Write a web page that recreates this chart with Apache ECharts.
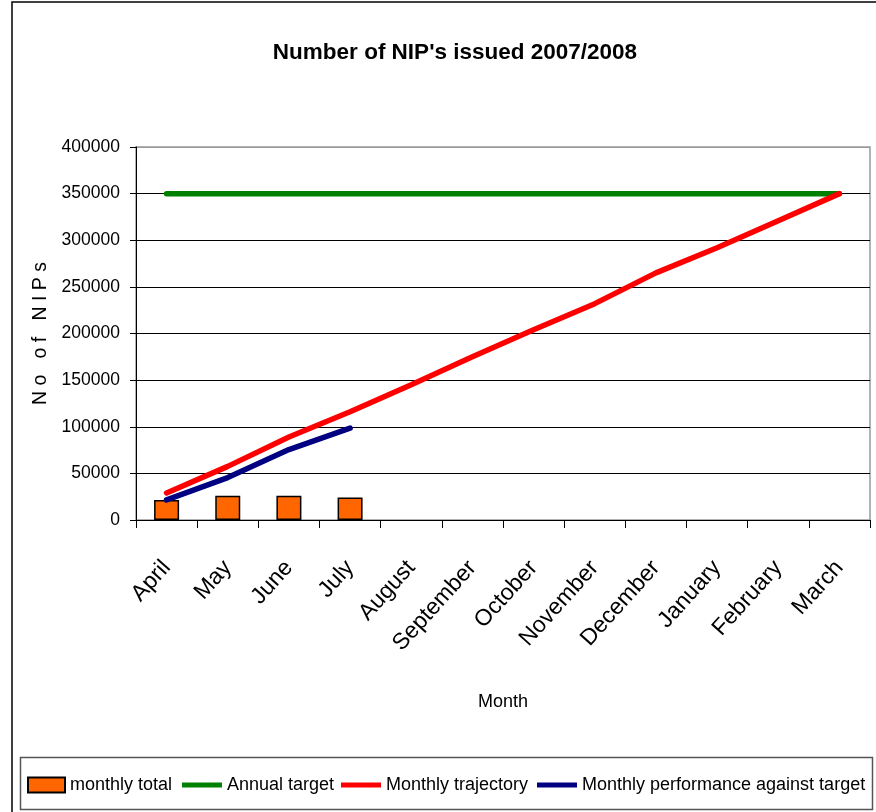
<!DOCTYPE html>
<html>
<head>
<meta charset="utf-8">
<script src="https://cdn.jsdelivr.net/npm/echarts@6/dist/echarts.min.js"></script>
<style>
  html, body { margin: 0; padding: 0; background: #fff; }
  #chart { width: 876px; height: 812px; }
</style>
</head>
<body>
<div id="chart"></div>
<script>
// data
var months = ['April', 'May', 'June', 'July', 'August', 'September', 'October', 'November', 'December', 'January', 'February', 'March']
var monthlyTotal = [21500, 26000, 26000, 24000]
var annualTarget = [350000, 350000, 350000, 350000, 350000, 350000, 350000, 350000, 350000, 350000, 350000, 350000]
var trajectory = [29000, 57500, 89000, 116000, 145000, 175000, 204000, 232000, 265000, 292000, 321000, 350000]
var performance = [21500, 45500, 75500, 98500]
var seriesNames = ['monthly total', 'Annual target', 'Monthly trajectory', 'Monthly performance against target']

var FONT = '"Liberation Sans", Arial, sans-serif'
var LINE_ICON = 'path://M0,0L40,0L40,5L0,5Z'

// one legend per item so each sits where the original puts it
var legendLeft = [27, 182, 341, 537]
var legends = seriesNames.map(function (name, i) {
  return {
    left: legendLeft[i],
    top: 776,
    padding: 0,
    itemWidth: i === 0 ? 37 : 40,
    itemHeight: 15,
    textStyle: { fontFamily: FONT, fontSize: 18, color: '#000' },
    data: [{ name: name, icon: i === 0 ? 'rect' : LINE_ICON }]
  }
})

var chart = echarts.init(document.getElementById('chart'))
var option = {
  animation: false,
  backgroundColor: '#fff',
  textStyle: { fontFamily: FONT },
  title: {
    text: "Number of NIP's issued 2007/2008",
    left: 450,
    top: 36,
    textAlign: 'center',
    textStyle: { fontFamily: FONT, fontSize: 22.5, fontWeight: 'bold', color: '#000' }
  },
  legend: legends,
  grid: {
    left: 136,
    right: 6,
    top: 147,
    bottom: 292,
    show: true,
    borderColor: '#999',
    borderWidth: 1.5
  },
  xAxis: {
    type: 'category',
    data: months,
    boundaryGap: true,
    axisLine: { lineStyle: { color: '#000', width: 1 } },
    axisTick: { show: true, length: 8, lineStyle: { color: '#000' } },
    axisLabel: { rotate: 48, margin: 44, fontSize: 23, color: '#000', fontFamily: FONT },
    name: 'Month',
    nameLocation: 'middle',
    nameGap: 173,
    nameTextStyle: { fontSize: 18, color: '#000', fontFamily: FONT }
  },
  yAxis: {
    type: 'value',
    min: 0,
    max: 400000,
    interval: 50000,
    axisLine: { show: true, lineStyle: { color: '#000', width: 1 } },
    axisTick: { show: true, length: 6, lineStyle: { color: '#000' } },
    axisLabel: {
      margin: 16,
      fontSize: 17.5,
      color: '#000',
      fontFamily: FONT,
      formatter: function (v) { return String(v) }
    },
    splitLine: { lineStyle: { color: ['#000', '#000', '#000', '#000', '#000', '#000', '#000', '#000', '#999'], width: 1 } },
    name: 'N o   o f   N I P s',
    nameLocation: 'middle',
    nameRotate: 90,
    nameGap: 78,
    nameTextStyle: { fontSize: 19.5, color: '#000', fontFamily: FONT }
  },
  graphic: [
    { type: 'rect', shape: { x: 12, y: 2, width: 900, height: 900 }, style: { fill: 'none', stroke: '#000', lineWidth: 1.5 }, silent: true },
    { type: 'rect', shape: { x: 20.5, y: 757.5, width: 852, height: 52 }, style: { fill: 'none', stroke: '#555', lineWidth: 1.5 }, silent: true }
  ],
  series: [
    {
      name: seriesNames[0],
      type: 'bar',
      barWidth: 25,
      itemStyle: { color: '#FF6600', borderColor: '#000', borderWidth: 1.5 },
      data: monthlyTotal
    },
    {
      name: seriesNames[1],
      type: 'line',
      symbol: 'none',
      color: '#008000',
      lineStyle: { color: '#008000', width: 5.5, cap: 'round' },
      data: annualTarget
    },
    {
      name: seriesNames[2],
      type: 'line',
      symbol: 'none',
      color: '#FF0000',
      lineStyle: { color: '#FF0000', width: 5.5, cap: 'round' },
      data: trajectory
    },
    {
      name: seriesNames[3],
      type: 'line',
      symbol: 'none',
      color: '#000080',
      lineStyle: { color: '#000080', width: 5.5, cap: 'round' },
      data: performance
    }
  ]
}
chart.setOption(option)
</script>
</body>
</html>
